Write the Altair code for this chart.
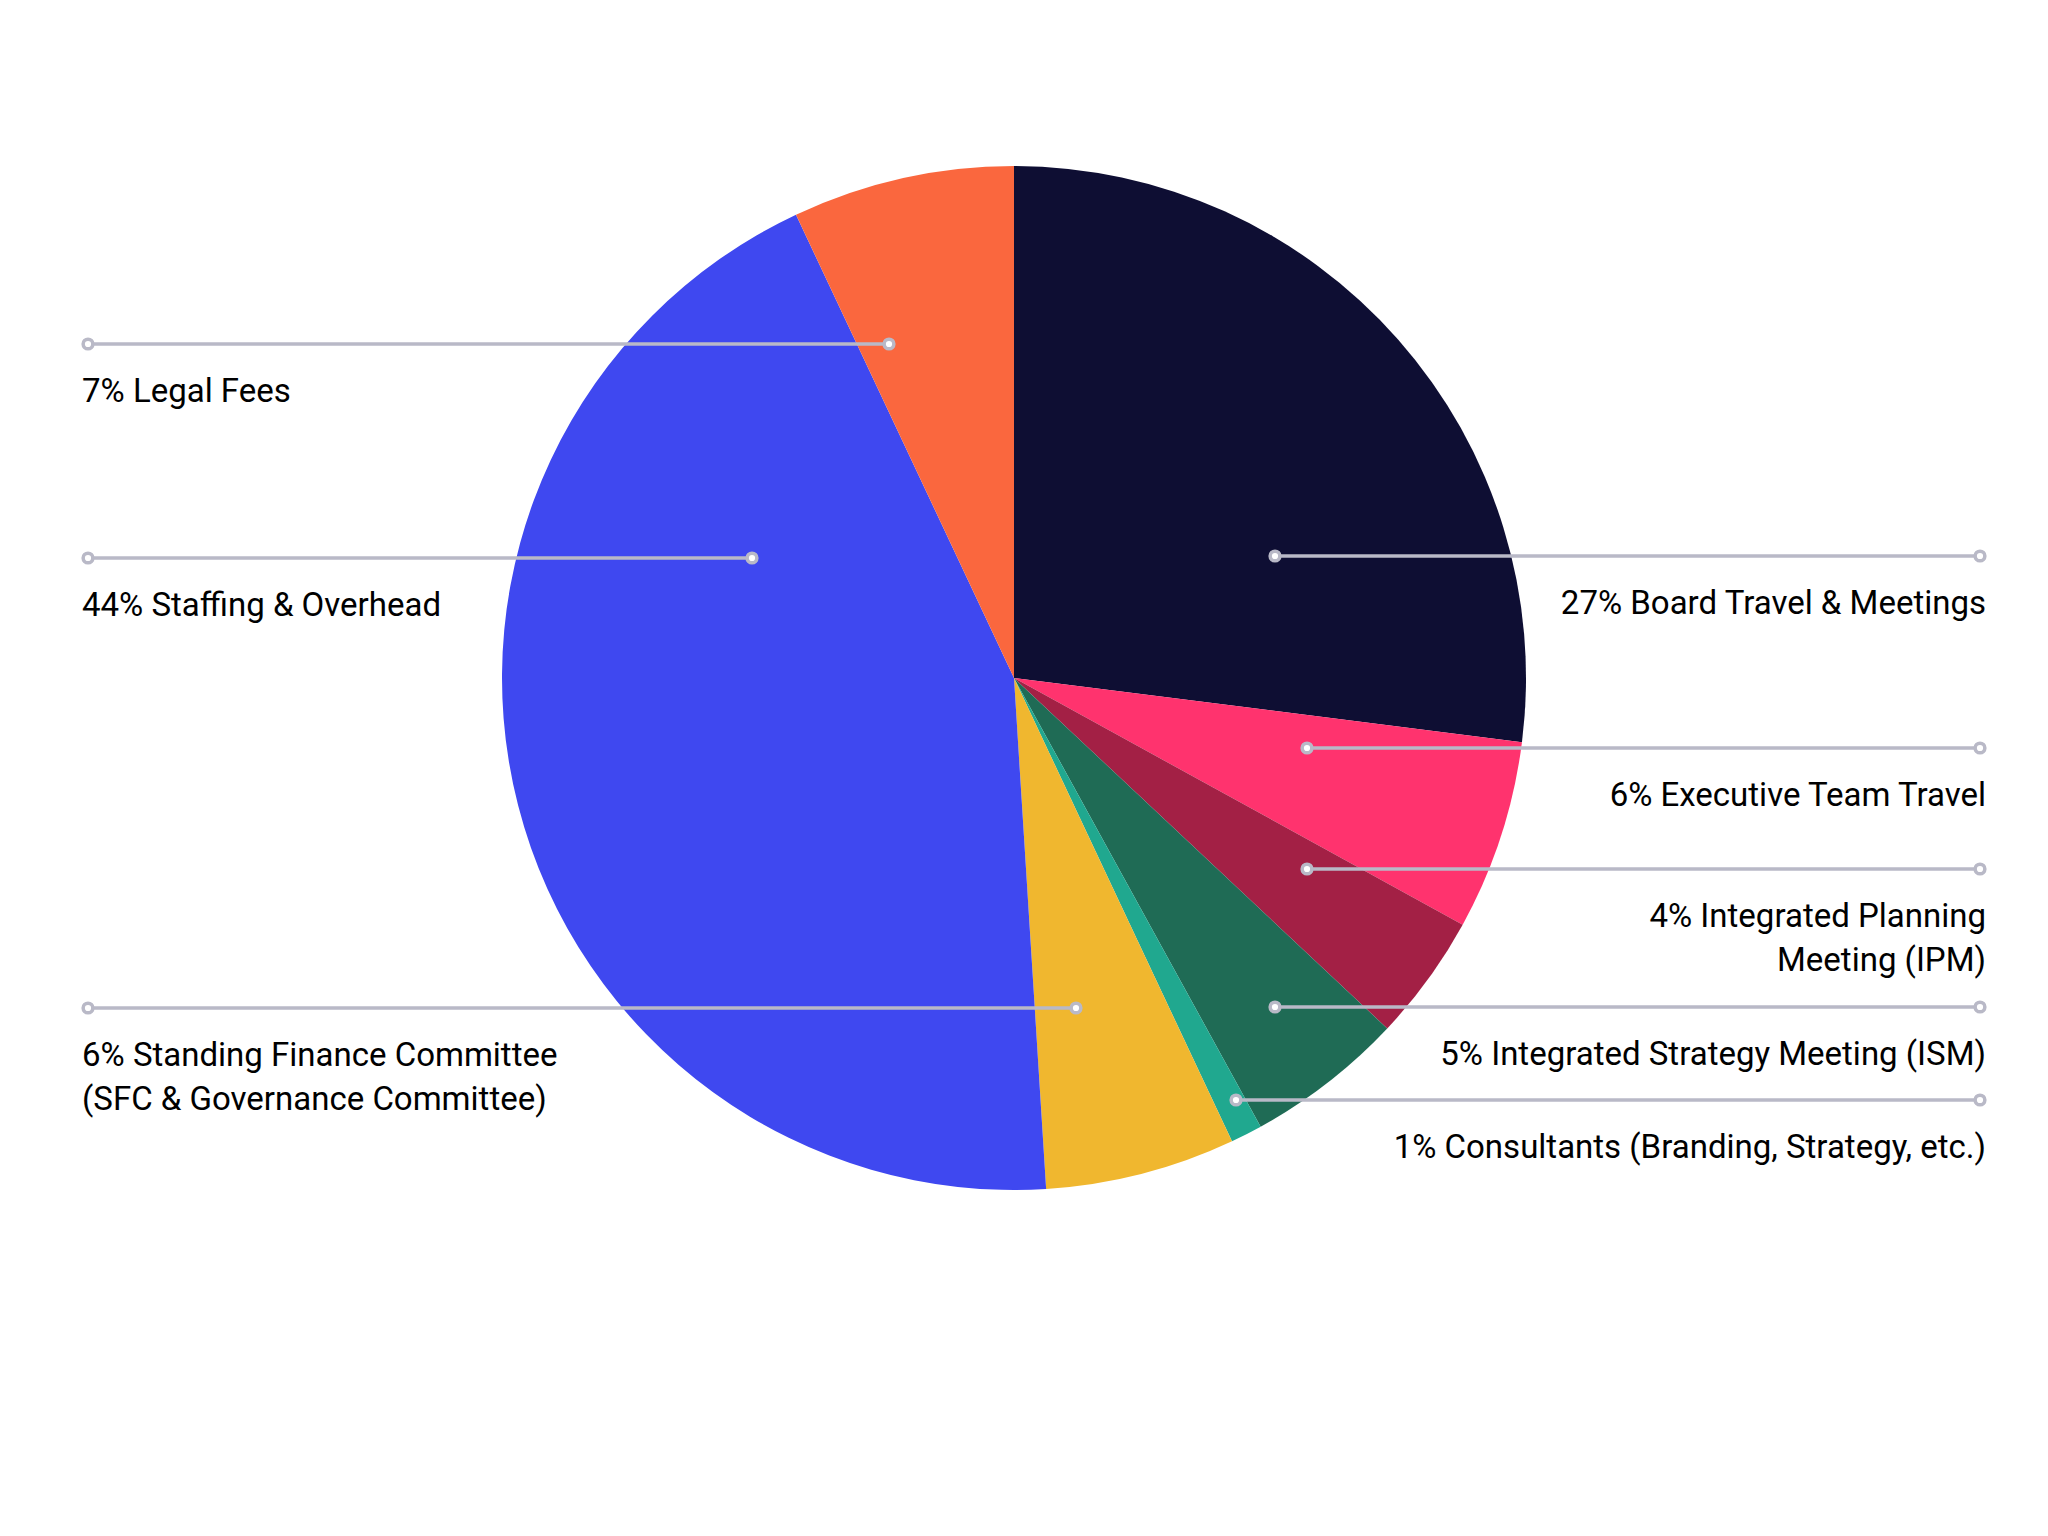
import altair as alt
import pandas as pd

# ---- data ----
categories = [
    "Board Travel & Meetings",
    "Executive Team Travel",
    "Integrated Planning Meeting (IPM)",
    "Integrated Strategy Meeting (ISM)",
    "Consultants (Branding, Strategy, etc.)",
    "Standing Finance Committee (SFC & Governance Committee)",
    "Staffing & Overhead",
    "Legal Fees",
]
values = [27, 6, 4, 5, 1, 6, 44, 7]
colors = ["#0e0e33", "#ff336e", "#a32045", "#1f6b55", "#20a88f", "#f0b72f", "#3f48f0", "#fa673e"]
label_texts = [
    "27% Board Travel & Meetings",
    "6% Executive Team Travel",
    "4% Integrated Planning\nMeeting (IPM)",
    "5% Integrated Strategy Meeting (ISM)",
    "1% Consultants (Branding, Strategy, etc.)",
    "6% Standing Finance Committee\n(SFC & Governance Committee)",
    "44% Staffing & Overhead",
    "7% Legal Fees",
]
sides = ["right", "right", "right", "right", "right", "left", "left", "left"]

# leader-line annotation anchors (page coordinates)
anchor_x = [1275, 1307, 1307, 1275, 1236, 1076, 752, 889]
anchor_y = [556, 748, 869, 1007, 1100, 1008, 558, 344]

# ---- layout ----
W, H = 2032, 1520
PIE_CX, PIE_CY, PIE_R = 1014, 678, 512
LEFT_END, RIGHT_END = 88, 1980
LEFT_TEXT, RIGHT_TEXT = 82, 1986
TEXT_OFFSET = 58
LINE_COLOR = "#b9b9c7"

xs = alt.Scale(domain=[8, 8 + W], range=[0, W], nice=False, zero=False)
ys = alt.Scale(domain=[8, 8 + H], range=[0, H], nice=False, zero=False)

pie_df = pd.DataFrame({
    "cat": categories,
    "value": values,
    "idx": list(range(len(categories))),
    "cx": [PIE_CX] * len(categories),
    "cy": [PIE_CY] * len(categories),
})

ann_df = pd.DataFrame({
    "label": label_texts,
    "side": sides,
    "ax": anchor_x,
    "ay": anchor_y,
})
ann_df["ox"] = [RIGHT_END if s == "right" else LEFT_END for s in sides]
ann_df["tx"] = [RIGHT_TEXT if s == "right" else LEFT_TEXT for s in sides]
ann_df["ty"] = ann_df["ay"] + TEXT_OFFSET

pie = alt.Chart(pie_df).mark_arc(outerRadius=PIE_R).encode(
    theta=alt.Theta("value:Q", stack=True),
    order=alt.Order("idx:Q"),
    color=alt.Color("cat:N", scale=alt.Scale(domain=categories, range=colors), legend=None),
    x=alt.X("cx:Q", scale=xs, axis=None),
    y=alt.Y("cy:Q", scale=ys, axis=None),
)

rules = alt.Chart(ann_df).mark_rule(color=LINE_COLOR, strokeWidth=3.5).encode(
    x=alt.X("ax:Q", scale=xs, axis=None),
    x2="ox:Q",
    y=alt.Y("ay:Q", scale=ys, axis=None),
)

ends = pd.concat([
    ann_df[["ax", "ay"]].rename(columns={"ax": "px", "ay": "py"}),
    ann_df[["ox", "ay"]].rename(columns={"ox": "px", "ay": "py"}),
], ignore_index=True)

dots = alt.Chart(ends).mark_point(
    shape="circle", filled=True, fill="white", stroke=LINE_COLOR, strokeWidth=3.5, size=95, opacity=1
).encode(
    x=alt.X("px:Q", scale=xs, axis=None),
    y=alt.Y("py:Q", scale=ys, axis=None),
)

text_style = dict(font="Roboto", fontSize=33, fontWeight=400, color="#000000",
                  baseline="alphabetic", lineBreak="\n", lineHeight=44)

left_text = alt.Chart(ann_df[ann_df["side"] == "left"]).mark_text(align="left", **text_style).encode(
    x=alt.X("tx:Q", scale=xs, axis=None),
    y=alt.Y("ty:Q", scale=ys, axis=None),
    text="label:N",
)
right_text = alt.Chart(ann_df[ann_df["side"] == "right"]).mark_text(align="right", **text_style).encode(
    x=alt.X("tx:Q", scale=xs, axis=None),
    y=alt.Y("ty:Q", scale=ys, axis=None),
    text="label:N",
)

chart = alt.layer(pie, rules, dots, left_text, right_text).properties(
    width=W, height=H, padding=0, autosize=alt.AutoSizeParams(type="none"),
    background="white",
).configure_view(stroke=None)

chart.save("out.html", embed_options={"renderer": "svg", "actions": False})
